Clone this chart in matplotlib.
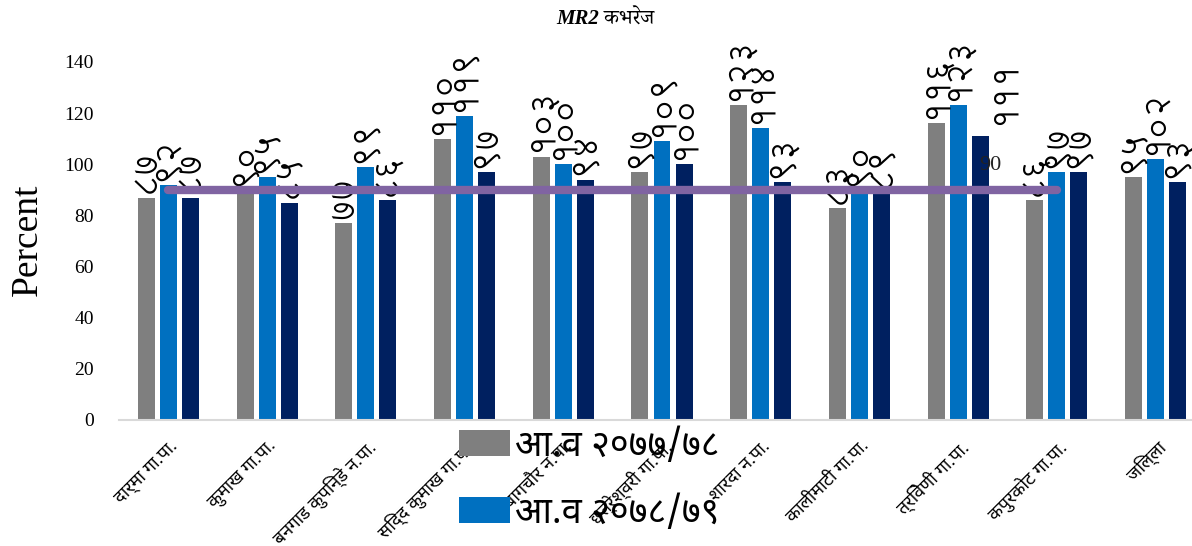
import matplotlib
matplotlib.use("Agg")
import matplotlib.pyplot as plt
import numpy as np
from matplotlib import font_manager
from matplotlib.ft2font import FT2Font

# find installed families that can draw Devanagari, best looking first
deva_fonts = []
for f in font_manager.fontManager.ttflist:
    if f.name in deva_fonts or f.name.startswith("Unifont"):
        continue
    try:
        if ord("क") in FT2Font(f.fname).get_charmap():
            deva_fonts.append(f.name)
    except Exception:
        pass
prefer = ["Noto Sans Devanagari", "Mukta", "Hind", "FreeSans"]
deva_sans = [n for n in prefer if n in deva_fonts] + deva_fonts
serif_prefer = ["Noto Serif Devanagari", "FreeSerif"]
deva_serif = [n for n in serif_prefer if n in deva_fonts] + deva_sans
# wide, Mangal-like digits for the bar labels
lohit = [n for n in deva_fonts if n.startswith("Lohit Deva")]

plt.rcParams["font.family"] = ["Liberation Serif"] + deva_sans + ["DejaVu Sans"]
sans_deva = deva_sans[:3] + ["DejaVu Sans"]
label_fam = lohit + sans_deva

# data
categories = ["दार्मा गा.पा.", "कुमाख गा.पा.", "बनगाड कुपिन्डे न.पा.", "सिद्द कुमाख गा.पा.",
              "बागचौर न.पा.", "छत्रेश्वरी गा.पा.", "शारदा न.पा.", "कालीमाटी गा.पा.",
              "त्रिवेणी गा.पा.", "कपुरकोट गा.पा.", "जिल्ला"]
series_names = ["आ.व २०७७/७८", "आ.व २०७८/७९", "आ.व २०७९/८०"]
fy_7778 = [87, 90, 77, 110, 103, 97, 123, 83, 116, 86, 95]
fy_7879 = [92, 95, 99, 119, 100, 109, 114, 90, 123, 97, 102]
fy_7980 = [87, 85, 86, 97, 94, 100, 93, 89, 111, 97, 93]
target = [90, 90, 90, 90, 90, 90, 90, 90, 90, 90]

colors = ["#7f7f7f", "#0070c0", "#002060"]
deva_digits = str.maketrans("0123456789", "०१२३४५६७८९")

fig = plt.figure(figsize=(11.92, 5.46), dpi=100)
ax = fig.add_axes([119 / 1192, 126 / 546, 1086 / 1192, 358 / 546])

x = np.arange(len(categories))
width = 0.172
offset = 0.223
for i, (vals, name) in enumerate(zip([fy_7778, fy_7879, fy_7980], series_names)):
    xs = x + (i - 1) * offset
    ax.bar(xs, vals, width, color=colors[i], label=name, zorder=2)
    for j, (xx, v) in enumerate(zip(xs, vals)):
        lbl = str(v).translate(deva_digits)
        # the trivenī label was dragged away in the original
        shift = (17, 8) if (i == 2 and j == 8) else (0, 3)
        ax.annotate(lbl, (xx, v), xytext=shift, textcoords="offset points",
                    rotation=90, ha="center", va="bottom", fontsize=24,
                    family=label_fam, fontweight="bold")

ax.plot(np.arange(len(target)), target, color="#8064a2", lw=6, solid_capstyle="round", zorder=3)
ax.text(8.33, 99.5, "90", fontsize=16, ha="center", va="center", color="#222222")

ax.set_xlim(-0.5, 10.5)
ax.set_ylim(0, 140)
ax.set_yticks(range(0, 141, 20))
ax.tick_params(axis="y", length=0, labelsize=14, pad=18)
ax.tick_params(axis="x", length=0, pad=12)
ax.set_xticks(x)
ax.set_xticklabels(categories, rotation=45, ha="right", rotation_mode="anchor",
                   fontsize=13, family=sans_deva)
for s in ["top", "right", "left"]:
    ax.spines[s].set_visible(False)
ax.spines["bottom"].set_color("#d9d9d9")
ax.spines["bottom"].set_linewidth(1.5)

fig.text(28 / 1192, 1 - 240 / 546, "Percent", rotation=90, fontsize=27,
         ha="center", va="center")
fig.text(605 / 1192, 1 - 20 / 546, "MR2 कभरेज", fontsize=15, fontweight="bold",
         style="italic", ha="center", va="center",
         family=["Liberation Serif"] + deva_serif[:2])

fig.legend(loc="upper left", bbox_to_anchor=(441 / 1192, 1 - 410 / 546), frameon=False,
           prop={"family": sans_deva, "size": 26}, handlelength=1.4, handleheight=0.72,
           labelspacing=0.85, borderpad=0, handletextpad=0.15)

fig.savefig("out.png", dpi=100)
